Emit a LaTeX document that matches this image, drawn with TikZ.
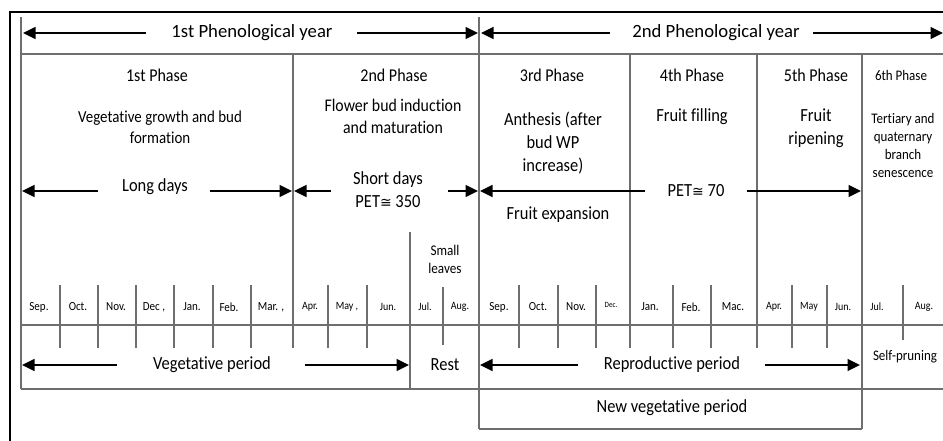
\documentclass[tikz,border=0pt]{standalone}
\usepackage{fontspec}
\setmainfont[FakeStretch=0.89,Ligatures=NoCommon]{Carlito}
\newfontfamily\yearfont[Ligatures=NoCommon]{Carlito}
\newfontfamily\symfont{DejaVu Sans}
\usetikzlibrary{arrows.meta}
\begin{document}
\begin{tikzpicture}[x=1pt,y=-1pt,
  gridline/.style={draw=black!57, line width=1.4pt},
  frameline/.style={draw=black, line width=2.2pt},
  arr/.style={-{Triangle[length=12.5pt,width=12pt]}, line width=1.6pt, draw=black},
  yeartxt/.style={font=\yearfont\fontsize{18.7}{22}\selectfont, inner sep=0pt},
  phasetxt/.style={font=\fontsize{18}{21}\selectfont, inner sep=0pt},
  desctxt/.style={font=\fontsize{16.8}{21}\selectfont, align=center, inner sep=0pt},
  bigtxt/.style={font=\fontsize{18.5}{23}\selectfont, align=center, inner sep=0pt},
  smalltxt/.style={font=\fontsize{14.6}{18}\selectfont, align=center, inner sep=0pt},
  monthtxt/.style={font=\fontsize{12.4}{14}\selectfont, inner sep=0pt},
  smonthtxt/.style={font=\fontsize{11.2}{13}\selectfont, inner sep=0pt}
]
\useasboundingbox (0,0) rectangle (943,441);
% outer frame
\draw[frameline] (10,441) -- (10,12) -- (943,12);
% grid lines
\draw[gridline] (21,17) -- (21,389);
\draw[gridline] (479,17) -- (479,429);
\draw[gridline] (21,54) -- (943,54);
\draw[gridline] (293,54) -- (293,348);
\draw[gridline] (630,54) -- (630,348);
\draw[gridline] (757,54) -- (757,348);
\draw[gridline] (862,54) -- (862,429);
\draw[gridline] (21,325) -- (943,325);
\draw[gridline] (21,389) -- (943,389);
\draw[gridline] (479,429) -- (862,429);
\draw[gridline] (410,232) -- (410,389);
\foreach \x in {60,98,136,174,213,251,328,367,519,558,596,673,711,792,827}
  \draw[gridline] (\x,285) -- (\x,348);
\draw[gridline] (443,287) -- (443,345);
\draw[gridline] (903,285) -- (903,340);

% months
\foreach \x/\m/\n in {39/Sep./m1,78/Oct./m2,116/Nov./m3,154/{Dec ,}/m4,192/Jan./m5,229/Feb./m6,271/{Mar. ,}/m7,
  499/Sep./n1,538/Oct./n2,576/Nov./n3,650/Jan./n5,691/Feb./n6,733/Mac./n7}
  \node[monthtxt] (\n) at (\x,307) {\m};
\foreach \x/\m/\n in {310/Apr./m8,347/{May ,}/m9,388/Jun./m10,425/Jul./m11,460/Aug./m12,
  774/Apr./n8,809/May/n9,843/Jun./n10,877/Jul./n11,924/Aug./n12}
  \node[smonthtxt] (\n) at (\x,307) {\m};
\node[inner sep=0pt, font=\fontsize{8}{9}\selectfont] (n4) at (611,305) {Dec.};

% year headers
\node[yeartxt] (y1) at (252,33) {1st Phenological year};
\coordinate (y1l) at (146,33); \coordinate (y1lt) at (23,33);
\coordinate (y1r) at (357,33); \coordinate (y1rt) at (478,33);
\draw[arr] (y1l) -- (y1lt);
\draw[arr] (y1r) -- (y1rt);
\node[yeartxt] (y2) at (716,33) {2nd Phenological year};
\coordinate (y2l) at (610,33); \coordinate (y2lt) at (481,33);
\coordinate (y2r) at (813,33); \coordinate (y2rt) at (943,33);
\draw[arr] (y2l) -- (y2lt);
\draw[arr] (y2r) -- (y2rt);

% phases
\node[phasetxt] (p1) at (157,75) {1st Phase};
\node[phasetxt] (p2) at (394,75) {2nd Phase};
\node[phasetxt] (p3) at (552,75) {3rd Phase};
\node[phasetxt] (p4) at (692,75) {4th Phase};
\node[phasetxt] (p5) at (816,75) {5th Phase};
\node[smalltxt] (p6) at (901,75) {6th Phase};

\node[desctxt] (d1) at (160,127) {Vegetative growth and bud\\formation};
\node[bigtxt, font=\fontsize{17.8}{22}\selectfont] (d2) at (393,116) {Flower bud induction\\and maturation};
\node[bigtxt] (d3) at (553,143) {Anthesis (after\\bud WP\\increase)};
\node[bigtxt] (d4) at (692,117) {Fruit filling};
\node[bigtxt] (d5) at (816,128) {Fruit\\ripening};
\node[smalltxt] (d6) at (903,145) {Tertiary and\\quaternary\\branch\\senescence};

% long days
\node[bigtxt] (ld) at (155,187) {Long days};
\coordinate (ldl) at (98,191); \coordinate (ldlt) at (22,191);
\coordinate (ldr) at (210,191); \coordinate (ldrt) at (292,191);
\draw[arr] (ldl) -- (ldlt);
\draw[arr] (ldr) -- (ldrt);
\node[bigtxt] (sd) at (388,190) {Short days\\PET{\symfont\fontsize{14}{16}\selectfont ≅} 350};
\coordinate (sdl) at (331,191); \coordinate (sdlt) at (294,191);
\coordinate (sdr) at (448,191); \coordinate (sdrt) at (478,191);
\draw[arr] (sdl) -- (sdlt);
\draw[arr] (sdr) -- (sdrt);
\node[bigtxt] (pe) at (696,191) {PET{\symfont\fontsize{14}{16}\selectfont ≅} 70};
\coordinate (pel) at (645,191); \coordinate (pelt) at (480,191);
\coordinate (per) at (747,191); \coordinate (pert) at (861,191);
\draw[arr] (pel) -- (pelt);
\draw[arr] (per) -- (pert);
\node[bigtxt] (fe) at (558,215) {Fruit expansion};
\node[font=\fontsize{14.8}{18}\selectfont, align=center, inner sep=0pt] (sl) at (445,259) {Small\\leaves};

% bottom periods
\node[bigtxt] (vp) at (212,365) {Vegetative period};
\coordinate (vpl) at (117,365); \coordinate (vplt) at (22,365);
\coordinate (vpr) at (305,365); \coordinate (vprt) at (409,365);
\draw[arr] (vpl) -- (vplt);
\draw[arr] (vpr) -- (vprt);
\node[bigtxt] (rs) at (445,365) {Rest};
\node[bigtxt] (rp) at (672,365) {Reproductive period};
\coordinate (rpl) at (578,365); \coordinate (rplt) at (480,365);
\coordinate (rpr) at (765,365); \coordinate (rprt) at (860,365);
\draw[arr] (rpl) -- (rplt);
\draw[arr] (rpr) -- (rprt);
\node[smalltxt] (sp) at (905,357) {Self-pruning};
\node[bigtxt] (nv) at (672,408) {New vegetative period};
\end{tikzpicture}
\end{document}
